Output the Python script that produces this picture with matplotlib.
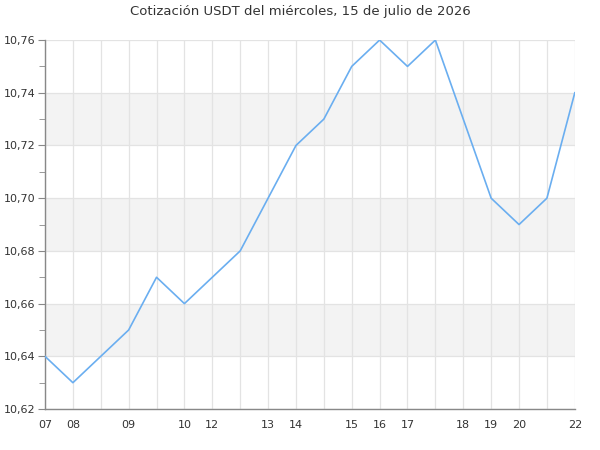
import matplotlib
matplotlib.use('Agg')
import matplotlib.pyplot as plt
import numpy as np
from matplotlib.ticker import MultipleLocator, FuncFormatter

# hour labels along the category axis (blank where no label is shown)
hours = ['07', '08', '', '09', '', '10', '12', '', '13', '14',
         '', '15', '16', '17', '', '18', '19', '20', '', '22']
prices = [10.64, 10.63, 10.64, 10.65, 10.67, 10.66, 10.67, 10.68, 10.70, 10.72,
          10.73, 10.75, 10.76, 10.75, 10.76, 10.73, 10.70, 10.69, 10.70, 10.74]

fig = plt.figure(figsize=(6, 4.5), dpi=100)
ax = fig.add_axes([0.075, 0.091, 0.883, 0.820])

x = np.arange(len(prices))
ax.plot(x, prices, color='#6aaef0', linewidth=1.2, zorder=3)

ymin, ymax = 10.62, 10.76
ax.set_xlim(0, len(prices) - 1)
ax.set_ylim(ymin, ymax)

# alternating bands
for lo in [10.64, 10.68, 10.72]:
    ax.axhspan(lo, lo + 0.02, color='#f3f3f3', zorder=0, lw=0)

ax.yaxis.set_major_locator(MultipleLocator(0.02))
ax.yaxis.set_minor_locator(MultipleLocator(0.01))
ax.yaxis.set_major_formatter(FuncFormatter(lambda v, p: ('%.2f' % v).replace('.', ',')))
ax.set_xticks(x)
ax.set_xticklabels(hours)

ax.grid(True, which='major', color='#e3e3e3', linewidth=0.9, zorder=1)
ax.set_axisbelow(True)

for s in ['top', 'right']:
    ax.spines[s].set_visible(False)
for s in ['left', 'bottom']:
    ax.spines[s].set_color('#888888')
    ax.spines[s].set_linewidth(1)

ax.tick_params(axis='y', which='major', length=5, color='#888888', labelsize=8, labelcolor='#333333', pad=2)
ax.tick_params(axis='y', which='minor', length=4, color='#888888')
ax.tick_params(axis='x', length=0, labelsize=8, labelcolor='#333333', pad=8)

fig.suptitle('Cotización USDT del miércoles, 15 de julio de 2026', y=0.99,
             fontsize=9.5, color='#333333')

fig.savefig('out.png', dpi=100)
